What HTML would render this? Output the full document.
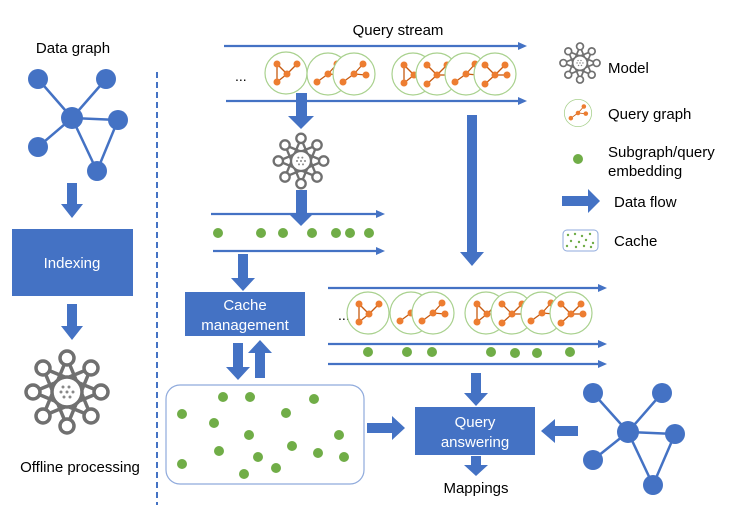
<!DOCTYPE html>
<html><head><meta charset="utf-8"><style>
html,body{margin:0;padding:0;background:#fff;}
svg{display:block;font-family:"Liberation Sans",sans-serif;}
</style></head><body>
<svg width="738" height="516" viewBox="0 0 738 516" xmlns="http://www.w3.org/2000/svg">
<defs>
<symbol id="model" viewBox="-45 -45 90 90" overflow="visible">
<g fill="none" stroke="#707070" stroke-width="3.5">
<polygon points="0,-34 24,24 -34,0 24,-24 0,34 -24,-24 34,0 -24,24"/>
<circle cx="0" cy="-34" r="7" fill="#fff"/><circle cx="24" cy="-24" r="7" fill="#fff"/>
<circle cx="34" cy="0" r="7" fill="#fff"/><circle cx="24" cy="24" r="7" fill="#fff"/>
<circle cx="0" cy="34" r="7" fill="#fff"/><circle cx="-24" cy="24" r="7" fill="#fff"/>
<circle cx="-34" cy="0" r="7" fill="#fff"/><circle cx="-24" cy="-24" r="7" fill="#fff"/>
<circle cx="0" cy="0" r="15" fill="#fff"/>
</g>
<g fill="#888"><circle cx="-4" cy="-5" r="1.5"/><circle cx="2" cy="-5" r="1.5"/><circle cx="-6" cy="0" r="1.5"/><circle cx="0" cy="0" r="1.5"/><circle cx="6" cy="0" r="1.5"/><circle cx="-3" cy="5" r="1.5"/><circle cx="3" cy="5" r="1.5"/></g>
</symbol>
<g id="qa"><circle r="21" fill="#fff" stroke="#a9d18e" stroke-width="1.2"/><g stroke="#c55a11" stroke-width="1.3"><line x1="-9" y1="-9" x2="-9" y2="9"/><line x1="-9" y1="-9" x2="1" y2="1"/><line x1="1" y1="1" x2="11" y2="-9"/><line x1="1" y1="1" x2="-9" y2="9"/></g><g fill="#ed7d31"><circle cx="-9" cy="-9" r="3.5"/><circle cx="11" cy="-9" r="3.5"/><circle cx="1" cy="1" r="3.5"/><circle cx="-9" cy="9" r="3.5"/></g></g>
<g id="qb"><circle r="21" fill="#fff" stroke="#a9d18e" stroke-width="1.2"/><g stroke="#c55a11" stroke-width="1.3"><line x1="-11" y1="8" x2="0" y2="0"/><line x1="0" y1="0" x2="9" y2="-10"/><line x1="0" y1="0" x2="12" y2="1"/></g><g fill="#ed7d31"><circle cx="-11" cy="8" r="3.5"/><circle cx="0" cy="0" r="3.5"/><circle cx="9" cy="-10" r="3.5"/><circle cx="12" cy="1" r="3.5"/></g></g>
<g id="qc"><circle r="21" fill="#fff" stroke="#a9d18e" stroke-width="1.2"/><g stroke="#c55a11" stroke-width="1.3"><line x1="-10" y1="-9" x2="0" y2="1"/><line x1="10" y1="-9" x2="0" y2="1"/><line x1="0" y1="1" x2="12" y2="1"/><line x1="0" y1="1" x2="-10" y2="10"/></g><g fill="#ed7d31"><circle cx="-10" cy="-9" r="3.5"/><circle cx="10" cy="-9" r="3.5"/><circle cx="0" cy="1" r="3.5"/><circle cx="12" cy="1" r="3.5"/><circle cx="-10" cy="10" r="3.5"/></g></g>
</defs>

<text x="73" y="53" font-size="15" text-anchor="middle">Data graph</text>
<g stroke="#4472c4" stroke-width="2.5"><line x1="72" y1="118" x2="38" y2="79"/><line x1="72" y1="118" x2="106" y2="79"/><line x1="72" y1="118" x2="118" y2="120"/><line x1="72" y1="118" x2="38" y2="147"/><line x1="72" y1="118" x2="97" y2="171"/><line x1="118" y1="120" x2="97" y2="171"/></g>
<g fill="#4472c4"><circle cx="38" cy="79" r="10"/><circle cx="106" cy="79" r="10"/><circle cx="72" cy="118" r="11"/><circle cx="118" cy="120" r="10"/><circle cx="38" cy="147" r="10"/><circle cx="97" cy="171" r="10"/></g>
<polygon fill="#4472c4" points="67,183 77,183 77,204 83,204 72,218 61,204 67,204"/>
<rect x="12" y="229" width="121" height="67" fill="#4472c4"/>
<text x="72" y="268" font-size="15" fill="#fff" text-anchor="middle">Indexing</text>
<polygon fill="#4472c4" points="67,304 77,304 77,326 83,326 72,340 61,326 67,326"/>
<use href="#model" x="22" y="347" width="90" height="90"/>
<text x="80" y="472" font-size="15" text-anchor="middle">Offline processing</text>
<line x1="157" y1="72" x2="157" y2="505" stroke="#4472c4" stroke-width="2" stroke-dasharray="6,4"/>

<text x="398" y="35" font-size="15" text-anchor="middle">Query stream</text>
<g stroke="#4472c4" stroke-width="2.2"><line x1="224" y1="46" x2="520" y2="46"/><line x1="226" y1="101" x2="520" y2="101"/><line x1="211" y1="214" x2="378" y2="214"/><line x1="213" y1="251" x2="378" y2="251"/><line x1="328" y1="288" x2="600" y2="288"/><line x1="328" y1="344" x2="600" y2="344"/><line x1="328" y1="364" x2="600" y2="364"/></g>
<g fill="#4472c4"><polygon points="527,46 518,42 518,50"/><polygon points="527,101 518,97 518,105"/><polygon points="385,214 376,210 376,218"/><polygon points="385,251 376,247 376,255"/><polygon points="607,288 598,284 598,292"/><polygon points="607,344 598,340 598,348"/><polygon points="607,364 598,360 598,368"/></g>
<text x="235" y="81" font-size="14">...</text>
<use href="#qa" x="286" y="73"/><use href="#qb" x="328" y="74"/><use href="#qb" x="354" y="74"/>
<use href="#qa" x="413" y="74"/><use href="#qc" x="437" y="74"/><use href="#qb" x="466" y="74"/><use href="#qc" x="495" y="74"/>

<polygon fill="#4472c4" points="296,93 307,93 307,116 314,116 301,129 288,116 296,116"/>
<use href="#model" x="271" y="131" width="60" height="60"/>
<polygon fill="#4472c4" points="296,190 307,190 307,213 314,213 301,226 288,213 296,213"/>
<g fill="#70ad47"><circle cx="218" cy="233" r="5"/><circle cx="261" cy="233" r="5"/><circle cx="283" cy="233" r="5"/><circle cx="312" cy="233" r="5"/><circle cx="336" cy="233" r="5"/><circle cx="350" cy="233" r="5"/><circle cx="369" cy="233" r="5"/></g>
<polygon fill="#4472c4" points="467,115 477,115 477,252 484,252 472,266 460,252 467,252"/>

<polygon fill="#4472c4" points="238,254 248,254 248,278 255,278 243,291 231,278 238,278"/>
<rect x="185" y="292" width="120" height="44" fill="#4472c4"/>
<text x="245" y="310" font-size="15" fill="#fff" text-anchor="middle">Cache</text>
<text x="245" y="330" font-size="15" fill="#fff" text-anchor="middle">management</text>
<polygon fill="#4472c4" points="233,343 243,343 243,367 250,367 238,380 226,367 233,367"/>
<polygon fill="#4472c4" points="255,378 265,378 265,353 272,353 260,340 248,353 255,353"/>

<rect x="166" y="385" width="198" height="99" rx="14" fill="#fff" stroke="#8faadc" stroke-width="1.2"/>
<g fill="#70ad47"><circle cx="182" cy="414" r="5"/><circle cx="223" cy="397" r="5"/><circle cx="250" cy="397" r="5"/><circle cx="314" cy="399" r="5"/><circle cx="286" cy="413" r="5"/><circle cx="214" cy="423" r="5"/><circle cx="249" cy="435" r="5"/><circle cx="339" cy="435" r="5"/><circle cx="219" cy="451" r="5"/><circle cx="292" cy="446" r="5"/><circle cx="258" cy="457" r="5"/><circle cx="318" cy="453" r="5"/><circle cx="182" cy="464" r="5"/><circle cx="244" cy="474" r="5"/><circle cx="276" cy="468" r="5"/><circle cx="344" cy="457" r="5"/></g>

<text x="338" y="320" font-size="14">...</text>
<use href="#qa" x="368" y="313"/><use href="#qb" x="411" y="313"/><use href="#qb" x="433" y="313"/>
<use href="#qa" x="486" y="313"/><use href="#qc" x="512" y="313"/><use href="#qb" x="542" y="313"/><use href="#qc" x="571" y="313"/>
<g fill="#70ad47"><circle cx="368" cy="352" r="5"/><circle cx="407" cy="352" r="5"/><circle cx="432" cy="352" r="5"/><circle cx="491" cy="352" r="5"/><circle cx="515" cy="353" r="5"/><circle cx="537" cy="353" r="5"/><circle cx="570" cy="352" r="5"/></g>

<polygon fill="#4472c4" points="471,373 481,373 481,393 488,393 476,406 464,393 471,393"/>
<rect x="415" y="407" width="120" height="48" fill="#4472c4"/>
<text x="475" y="427" font-size="15" fill="#fff" text-anchor="middle">Query</text>
<text x="475" y="447" font-size="15" fill="#fff" text-anchor="middle">answering</text>
<polygon fill="#4472c4" points="367,423 392,423 392,416 405,428 392,440 392,433 367,433"/>
<polygon fill="#4472c4" points="578,426 555,426 555,419 541,431 555,443 555,436 578,436"/>
<polygon fill="#4472c4" points="471,456 481,456 481,465 488,465 476,476 464,465 471,465"/>
<text x="476" y="493" font-size="15" text-anchor="middle">Mappings</text>

<g stroke="#4472c4" stroke-width="2.5"><line x1="628" y1="432" x2="593" y2="393"/><line x1="628" y1="432" x2="662" y2="393"/><line x1="628" y1="432" x2="675" y2="434"/><line x1="628" y1="432" x2="593" y2="460"/><line x1="628" y1="432" x2="653" y2="485"/><line x1="675" y1="434" x2="653" y2="485"/></g>
<g fill="#4472c4"><circle cx="593" cy="393" r="10"/><circle cx="662" cy="393" r="10"/><circle cx="628" cy="432" r="11"/><circle cx="675" cy="434" r="10"/><circle cx="593" cy="460" r="10"/><circle cx="653" cy="485" r="10"/></g>

<use href="#model" x="558" y="41" width="44" height="44"/>
<text x="608" y="73" font-size="15">Model</text>
<g transform="translate(578,113) scale(0.65)"><use href="#qb"/></g>
<text x="608" y="119" font-size="15">Query graph</text>
<circle cx="578" cy="159" r="5" fill="#70ad47"/>
<text x="608" y="157" font-size="15">Subgraph/query</text>
<text x="608" y="176" font-size="15">embedding</text>
<polygon fill="#4472c4" points="562,196 588,196 588,189 600,201 588,213 588,206 562,206"/>
<text x="614" y="207" font-size="15">Data flow</text>
<rect x="563" y="230" width="35" height="21" rx="4" fill="#fff" stroke="#8faadc"/>
<g fill="#70ad47"><circle cx="568" cy="235" r="1.2"/><circle cx="575" cy="234" r="1.2"/><circle cx="582" cy="236" r="1.2"/><circle cx="590" cy="234" r="1.2"/><circle cx="571" cy="241" r="1.2"/><circle cx="579" cy="242" r="1.2"/><circle cx="586" cy="240" r="1.2"/><circle cx="593" cy="243" r="1.2"/><circle cx="567" cy="246" r="1.2"/><circle cx="576" cy="247" r="1.2"/><circle cx="584" cy="246" r="1.2"/><circle cx="591" cy="247" r="1.2"/></g>
<text x="614" y="246" font-size="15">Cache</text>
</svg>
</body></html>
